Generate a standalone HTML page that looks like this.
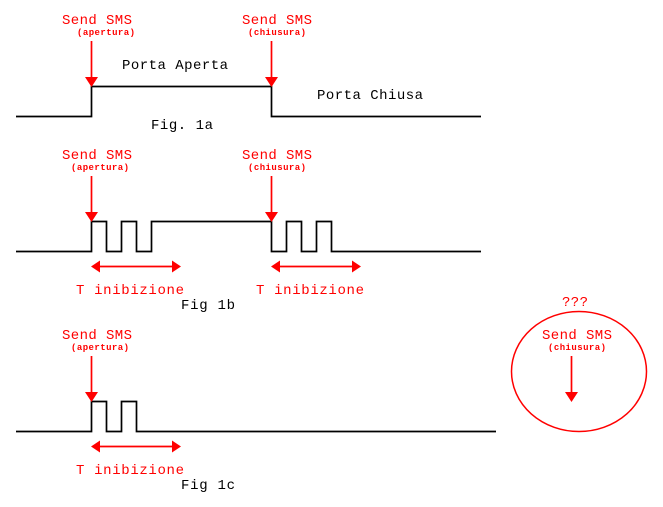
<!DOCTYPE html>
<html><head><meta charset="utf-8"><style>
html,body{margin:0;padding:0;background:#fff;width:663px;height:507px;overflow:hidden}
svg{display:block}
text{font-family:"Liberation Mono",monospace;white-space:pre}
.s{font-size:14px;fill:#f00}
.b{font-size:9px;fill:#f00;font-weight:bold}
.k{font-size:14px;fill:#000}
.w{fill:none;stroke:#000;stroke-width:1.7}
.a{stroke:#f00;stroke-width:1.7;fill:none}
.h{fill:#f00}
</style></head><body>
<svg width="663" height="507" viewBox="0 0 663 507" xmlns="http://www.w3.org/2000/svg">
<path class="w" d="M16 116.5H91.5V86.5H271.5V116.5H481"/>
<path class="w" d="M16 251.5H91.5V221.5H106.5V251.5H121.5V221.5H136.5V251.5H151.5V221.5H271.5V251.5H286.5V221.5H301.5V251.5H316.5V221.5H331.5V251.5H481"/>
<path class="w" d="M16 431.5H91.5V401.5H106.5V431.5H121.5V401.5H136.5V431.5H496"/>

<path class="a" d="M91.5 41V78M271.5 41V78M91.5 176V213M271.5 176V213M91.5 356V393M571.5 356V393"/>
<path class="h" d="M85 77H98L91.5 87ZM265 77H278L271.5 87ZM85 212H98L91.5 222ZM265 212H278L271.5 222ZM85 392H98L91.5 402ZM565 392H578L571.5 402Z"/>

<path class="a" d="M98 266.5H174M278 266.5H354M98 446.5H174"/>
<path class="h" d="M91 266.5L100 260.5V272.5ZM181 266.5L172 260.5V272.5ZM271 266.5L280 260.5V272.5ZM361 266.5L352 260.5V272.5ZM91 446.5L100 440.5V452.5ZM181 446.5L172 440.5V452.5Z"/>

<ellipse cx="579" cy="371.5" rx="67.5" ry="60" fill="none" stroke="#f00" stroke-width="1.5"/>

<text class="s" x="62" y="24" textLength="70">Send SMS</text>
<text class="s" x="242" y="24" textLength="70">Send SMS</text>
<text class="b" x="77" y="35" textLength="58">(apertura)</text>
<text class="b" x="248" y="35" textLength="58">(chiusura)</text>
<text class="k" x="122" y="69" textLength="106">Porta Aperta</text>
<text class="k" x="317" y="99" textLength="106">Porta Chiusa</text>
<text class="k" x="151" y="129" textLength="62">Fig. 1a</text>

<text class="s" x="62" y="159" textLength="70">Send SMS</text>
<text class="s" x="242" y="159" textLength="70">Send SMS</text>
<text class="b" x="71" y="170" textLength="58">(apertura)</text>
<text class="b" x="248" y="170" textLength="58">(chiusura)</text>
<text class="s" x="76" y="294" textLength="108">T inibizione</text>
<text class="s" x="256" y="294" textLength="108">T inibizione</text>
<text class="k" x="181" y="309" textLength="54">Fig 1b</text>

<text class="s" x="62" y="339" textLength="70">Send SMS</text>
<text class="b" x="71" y="350" textLength="58">(apertura)</text>
<text class="s" x="76" y="474" textLength="108">T inibizione</text>
<text class="k" x="181" y="489" textLength="54">Fig 1c</text>

<text class="s" x="562" y="306" textLength="26">???</text>
<text class="s" x="542" y="339" textLength="70">Send SMS</text>
<text class="b" x="548" y="350" textLength="58">(chiusura)</text>
</svg>
</body></html>
